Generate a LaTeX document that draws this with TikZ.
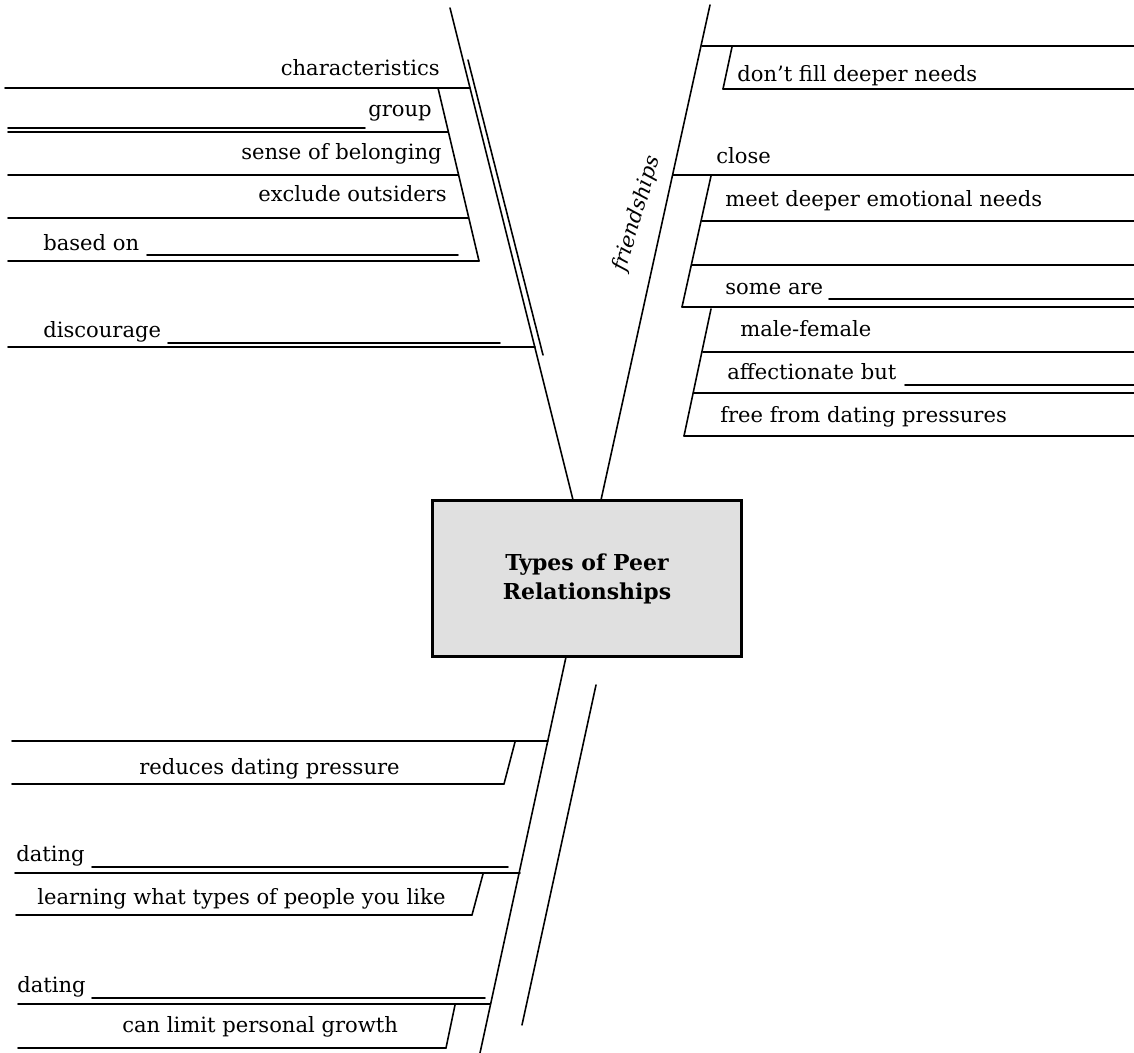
\documentclass[tikz,border=0pt]{standalone}
\usepackage{fontspec}
\setmainfont{DejaVu Serif}
\begin{document}
\begin{tikzpicture}[x=0.02cm,y=-0.02cm,
  ln/.style={line width=0.9pt, line cap=round},
  lbl/.style={font=\fontsize{12}{14}\selectfont, inner sep=0pt},
  lblE/.style={lbl, anchor=base east},
  lblW/.style={lbl, anchor=base west},
  corebox/.style={draw, line width=1.7pt, fill=black!12, minimum width=6.2cm, minimum height=3.14cm, inner sep=0pt, align=center, font=\bfseries\fontsize{12.5}{16.5}\selectfont},
  spinelbl/.style={font=\itshape\fontsize{12}{14}\selectfont, inner sep=0pt, rotate=73}
]
\useasboundingbox (0,0) rectangle (1134,1053);

% central box
\node[corebox] (core) at (587,578.5) {Types of Peer\\Relationships};

% ---------- upper-left branch ----------
\coordinate (ulTop) at (450,8);
\coordinate (ulBot) at (573,500);
\coordinate (ulP1) at (468,60);
\coordinate (ulP2) at (543,355);
\draw[ln] (ulTop) -- (ulBot);
\draw[ln] (ulP1) -- (ulP2);

\coordinate (ch0) at (5,88);   \coordinate (ch1) at (470,88);
\draw[ln] (ch0) -- (ch1);
\coordinate (chS0) at (438,88); \coordinate (chS1) at (479,261);
\draw[ln] (chS0) -- (chS1);
\node[lblE] (tchar) at (440,76) {characteristics};

\coordinate (gb0) at (8,128); \coordinate (gb1) at (365,128);
\draw[ln] (gb0) -- (gb1);
\coordinate (g0) at (8,132); \coordinate (g1) at (448,132);
\draw[ln] (g0) -- (g1);
\node[lblE] (tgroup) at (432,117) {group};

\coordinate (s0) at (8,175); \coordinate (s1) at (458,175);
\draw[ln] (s0) -- (s1);
\node[lblE] (tsense) at (442,160) {sense of belonging};

\coordinate (e0) at (8,218); \coordinate (e1) at (468,218);
\draw[ln] (e0) -- (e1);
\node[lblE] (texcl) at (447,202) {exclude outsiders};

\coordinate (bb0) at (147,255); \coordinate (bb1) at (458,255);
\draw[ln] (bb0) -- (bb1);
\coordinate (b0) at (8,261); \coordinate (b1) at (479,261);
\draw[ln] (b0) -- (b1);
\node[lblW] (tbased) at (43,251) {based on};

\coordinate (db0) at (168,343); \coordinate (db1) at (500,343);
\draw[ln] (db0) -- (db1);
\coordinate (d0) at (8,347); \coordinate (d1) at (535,347);
\draw[ln] (d0) -- (d1);
\node[lblW] (tdisc) at (43,338) {discourage};

% ---------- upper-right branch ----------
\coordinate (urTop) at (710,5);
\coordinate (urBot) at (601,500);
\draw[ln] (urTop) -- (urBot);
\node[spinelbl] (tfriend) at (637,214) {friendships};

\coordinate (df0) at (702,46); \coordinate (df1) at (1134,46);
\draw[ln] (df0) -- (df1);
\coordinate (dfS0) at (732,47); \coordinate (dfS1) at (723,89);
\draw[ln] (dfS0) -- (dfS1);
\coordinate (dfL1) at (1134,89);
\draw[ln] (dfS1) -- (dfL1);
\node[lblW] (tdont) at (737,82) {don’t fill deeper needs};

\coordinate (cl0) at (673,175); \coordinate (cl1) at (1134,175);
\draw[ln] (cl0) -- (cl1);
\node[lblW] (tclose) at (716,164) {close};
\coordinate (clS0) at (711,176); \coordinate (clS1) at (682,307);
\draw[ln] (clS0) -- (clS1);

\coordinate (m0) at (702,221); \coordinate (m1) at (1134,221);
\draw[ln] (m0) -- (m1);
\node[lblW] (tmeet) at (725,207) {meet deeper emotional needs};

\coordinate (bl0) at (692,265); \coordinate (bl1) at (1134,265);
\draw[ln] (bl0) -- (bl1);

\coordinate (sb0) at (829,299); \coordinate (sb1) at (1134,299);
\draw[ln] (sb0) -- (sb1);
\coordinate (sm1) at (1134,307);
\draw[ln] (clS1) -- (sm1);
\node[lblW] (tsome) at (725,295) {some are};

\coordinate (smS0) at (711,309); \coordinate (smS1) at (684,436);
\draw[ln] (smS0) -- (smS1);

\coordinate (mf0) at (703,352); \coordinate (mf1) at (1134,352);
\draw[ln] (mf0) -- (mf1);
\node[lblW] (tmale) at (740,337) {male-female};

\coordinate (ab0) at (905,385); \coordinate (ab1) at (1134,385);
\draw[ln] (ab0) -- (ab1);
\coordinate (af0) at (694,393); \coordinate (af1) at (1134,393);
\draw[ln] (af0) -- (af1);
\node[lblW] (taff) at (727,380) {affectionate but};

\coordinate (fr1) at (1134,436);
\draw[ln] (smS1) -- (fr1);
\node[lblW] (tfree) at (720,423) {free from dating pressures};

% ---------- lower-left branch ----------
\coordinate (llTop) at (566,657);
\coordinate (llBot) at (480,1053);
\draw[ln] (llTop) -- (llBot);
\coordinate (llP1) at (596,685);
\coordinate (llP2) at (522,1025);
\draw[ln] (llP1) -- (llP2);

\coordinate (r0) at (12,741); \coordinate (r1) at (548,741);
\draw[ln] (r0) -- (r1);
\coordinate (rS0) at (515,742); \coordinate (rS1) at (504,784);
\draw[ln] (rS0) -- (rS1);
\coordinate (rL0) at (12,784);
\draw[ln] (rL0) -- (rS1);
\node[lblW] (tred) at (139,775) {reduces dating pressure};

\coordinate (dtb0) at (92,867); \coordinate (dtb1) at (508,867);
\draw[ln] (dtb0) -- (dtb1);
\coordinate (dt0) at (15,873); \coordinate (dt1) at (520,873);
\draw[ln] (dt0) -- (dt1);
\node[lblW] (tdat1) at (16,862) {dating};
\coordinate (dtS0) at (483,874); \coordinate (dtS1) at (472,915);
\draw[ln] (dtS0) -- (dtS1);
\coordinate (dtL0) at (16,915);
\draw[ln] (dtL0) -- (dtS1);
\node[lblW] (tlearn) at (37,905) {learning what types of people you like};

\coordinate (d2b0) at (92,998); \coordinate (d2b1) at (485,998);
\draw[ln] (d2b0) -- (d2b1);
\coordinate (d20) at (18,1004); \coordinate (d21) at (490,1004);
\draw[ln] (d20) -- (d21);
\node[lblW] (tdat2) at (17,993) {dating};
\coordinate (d2S0) at (455,1005); \coordinate (d2S1) at (446,1048);
\draw[ln] (d2S0) -- (d2S1);
\coordinate (d2L0) at (18,1048);
\draw[ln] (d2L0) -- (d2S1);
\node[lblW] (tlimit) at (122,1033) {can limit personal growth};
\end{tikzpicture}
\end{document}
